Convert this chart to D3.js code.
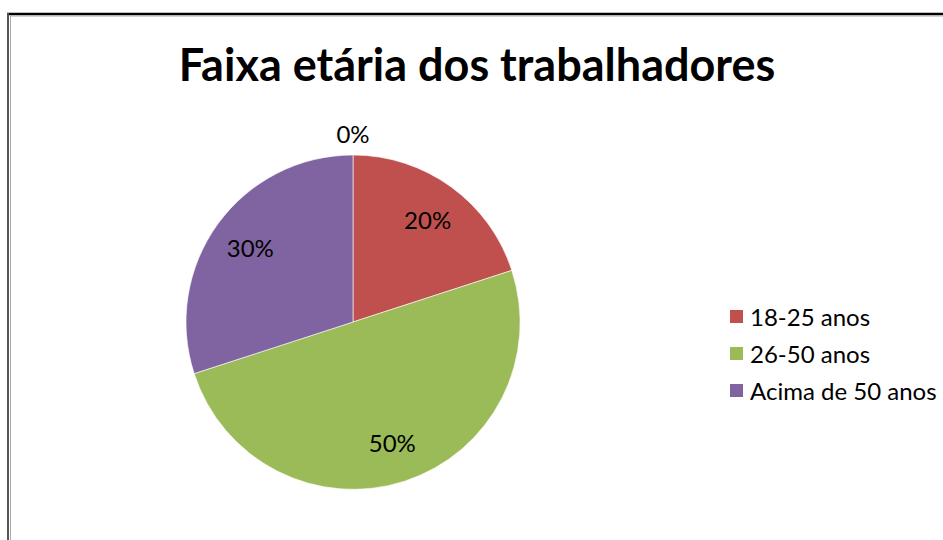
<!DOCTYPE html>
<html>
<head>
<meta charset="utf-8">
<script src="https://cdn.jsdelivr.net/npm/d3@7"></script>
<style>
  html, body { margin: 0; padding: 0; background: #fff; }
  svg { display: block; }
</style>
</head>
<body>
<svg id="chart"></svg>
<script>
const W = 943, H = 540;

// ── Data ─────────────────────────────────────────────────────────────
const categories = ["", "18-25 anos", "26-50 anos", "Acima de 50 anos"];
const values     = [0, 20, 50, 30];
const colors     = ["#4F81BD", "#C0504D", "#9BBB59", "#8064A2"];
const legendKeys = ["18-25 anos", "26-50 anos", "Acima de 50 anos"];
const title      = "Faixa etária dos trabalhadores";

const FONT = "Lato, 'Open Sans', sans-serif";

const svg = d3.select("#chart").attr("width", W).attr("height", H);

svg.append("rect").attr("width", W).attr("height", H).attr("fill", "#fff");

// ── Frame (cropped chart border) ─────────────────────────────────────
svg.append("line").attr("x1", 7).attr("x2", W).attr("y1", 14).attr("y2", 14)
    .attr("stroke", "#000").attr("stroke-width", 2.5);
svg.append("line").attr("x1", 10).attr("x2", W).attr("y1", 16).attr("y2", 16)
    .attr("stroke", "#aaa").attr("stroke-width", 1);
svg.append("line").attr("x1", 8).attr("x2", 8).attr("y1", 13).attr("y2", H)
    .attr("stroke", "#555").attr("stroke-width", 2);
svg.append("line").attr("x1", 10.5).attr("x2", 10.5).attr("y1", 16).attr("y2", H)
    .attr("stroke", "#aaa").attr("stroke-width", 1);

// ── Title ────────────────────────────────────────────────────────────
svg.append("text")
    .attr("x", 477).attr("y", 81)
    .attr("text-anchor", "middle")
    .attr("font-family", FONT).attr("font-weight", "700").attr("font-size", 45)
    .attr("fill", "#000")
    .text(title);

// ── Pie ──────────────────────────────────────────────────────────────
const cx = 353, cy = 322, R = 167, labelR = 127;
const data = categories.map((c, i) => ({ cat: c, value: values[i], color: colors[i] }));
const total = d3.sum(values);

const pie = d3.pie().value(d => d.value).sort(null);
const arc = d3.arc().innerRadius(0).outerRadius(R);
const arcs = pie(data);

const g = svg.append("g").attr("transform", `translate(${cx},${cy})`);

g.selectAll("path")
    .data(arcs.filter(d => d.data.value > 0))
    .enter().append("path")
    .attr("d", arc)
    .attr("fill", d => d.data.color)
    .attr("stroke", "#fff").attr("stroke-opacity", 0.6).attr("stroke-width", 1);

const labelArc = d3.arc().innerRadius(labelR).outerRadius(labelR);
const outerArc = d3.arc().innerRadius(R + 22).outerRadius(R + 22);

g.selectAll("text.lbl")
    .data(arcs)
    .enter().append("text")
    .attr("class", "lbl")
    .attr("transform", d => `translate(${(d.data.value > 0 ? labelArc : outerArc).centroid(d)})`)
    .attr("text-anchor", "middle")
    .attr("dominant-baseline", "central")
    .attr("font-family", FONT).attr("font-size", 24)
    .attr("fill", "#000")
    .text(d => `${Math.round(d.data.value / total * 100)}%`);

// ── Legend ───────────────────────────────────────────────────────────
const legendY = d3.scalePoint().domain(legendKeys).range([316.5, 390.5]);
const legend = svg.append("g");
legendKeys.forEach(k => {
    const i = categories.indexOf(k);
    const y = legendY(k);
    legend.append("rect")
        .attr("x", 730).attr("y", y - 6.5)
        .attr("width", 13).attr("height", 13)
        .attr("fill", colors[i]);
    legend.append("text")
        .attr("x", 750).attr("y", y)
        .attr("dominant-baseline", "central")
        .attr("font-family", FONT).attr("font-size", 24)
        .attr("fill", "#000")
        .text(k);
});
</script>
</body>
</html>
